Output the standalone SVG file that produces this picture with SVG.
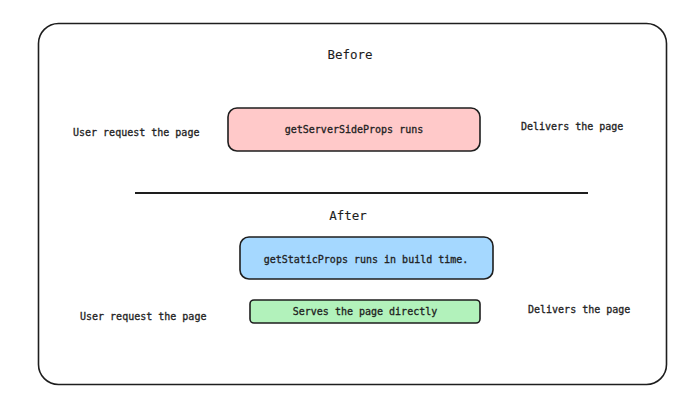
<svg xmlns="http://www.w3.org/2000/svg" width="700" height="416" viewBox="0 0 700 416">
<style>
text{font-family:"DejaVu Sans Mono","Liberation Mono",monospace;fill:#1e1e1e;font-size:10px;dominant-baseline:central;stroke:#1e1e1e;stroke-width:0.3}
.h{font-size:12.5px;stroke-width:0.1}
.box{stroke:#1e1e1e;stroke-width:1.6}
.c{text-anchor:middle}
</style>
<rect width="700" height="416" fill="#ffffff"/>
<g id="frame"><rect x="38.5" y="23.5" width="628" height="361" rx="20" fill="none" class="box"/></g>
<g id="before"><text class="h c" x="350" y="54">Before</text></g>
<g id="user1"><text x="73" y="132">User request the page</text></g>
<g id="ssp"><rect x="228" y="108" width="252" height="43" rx="9" fill="#ffc9c9" class="box"/><text class="c" x="354" y="129.5">getServerSideProps runs</text></g>
<g id="deliver1"><text x="521" y="126">Delivers the page</text></g>
<g id="connectors"><line x1="135" y1="193" x2="588" y2="193" stroke="#1e1e1e" stroke-width="2"/></g>
<g id="after"><text class="h c" x="348" y="215">After</text></g>
<g id="gsp"><rect x="240" y="237" width="253" height="42" rx="9" fill="#a5d8ff" class="box"/><text class="c" x="366" y="259">getStaticProps runs in build time.</text></g>
<g id="user2"><text x="80" y="316">User request the page</text></g>
<g id="serve"><rect x="250" y="300" width="230" height="23" rx="4" fill="#b2f2bb" class="box"/><text class="c" x="365" y="311.5">Serves the page directly</text></g>
<g id="deliver2"><text x="528" y="309">Delivers the page</text></g>
</svg>
